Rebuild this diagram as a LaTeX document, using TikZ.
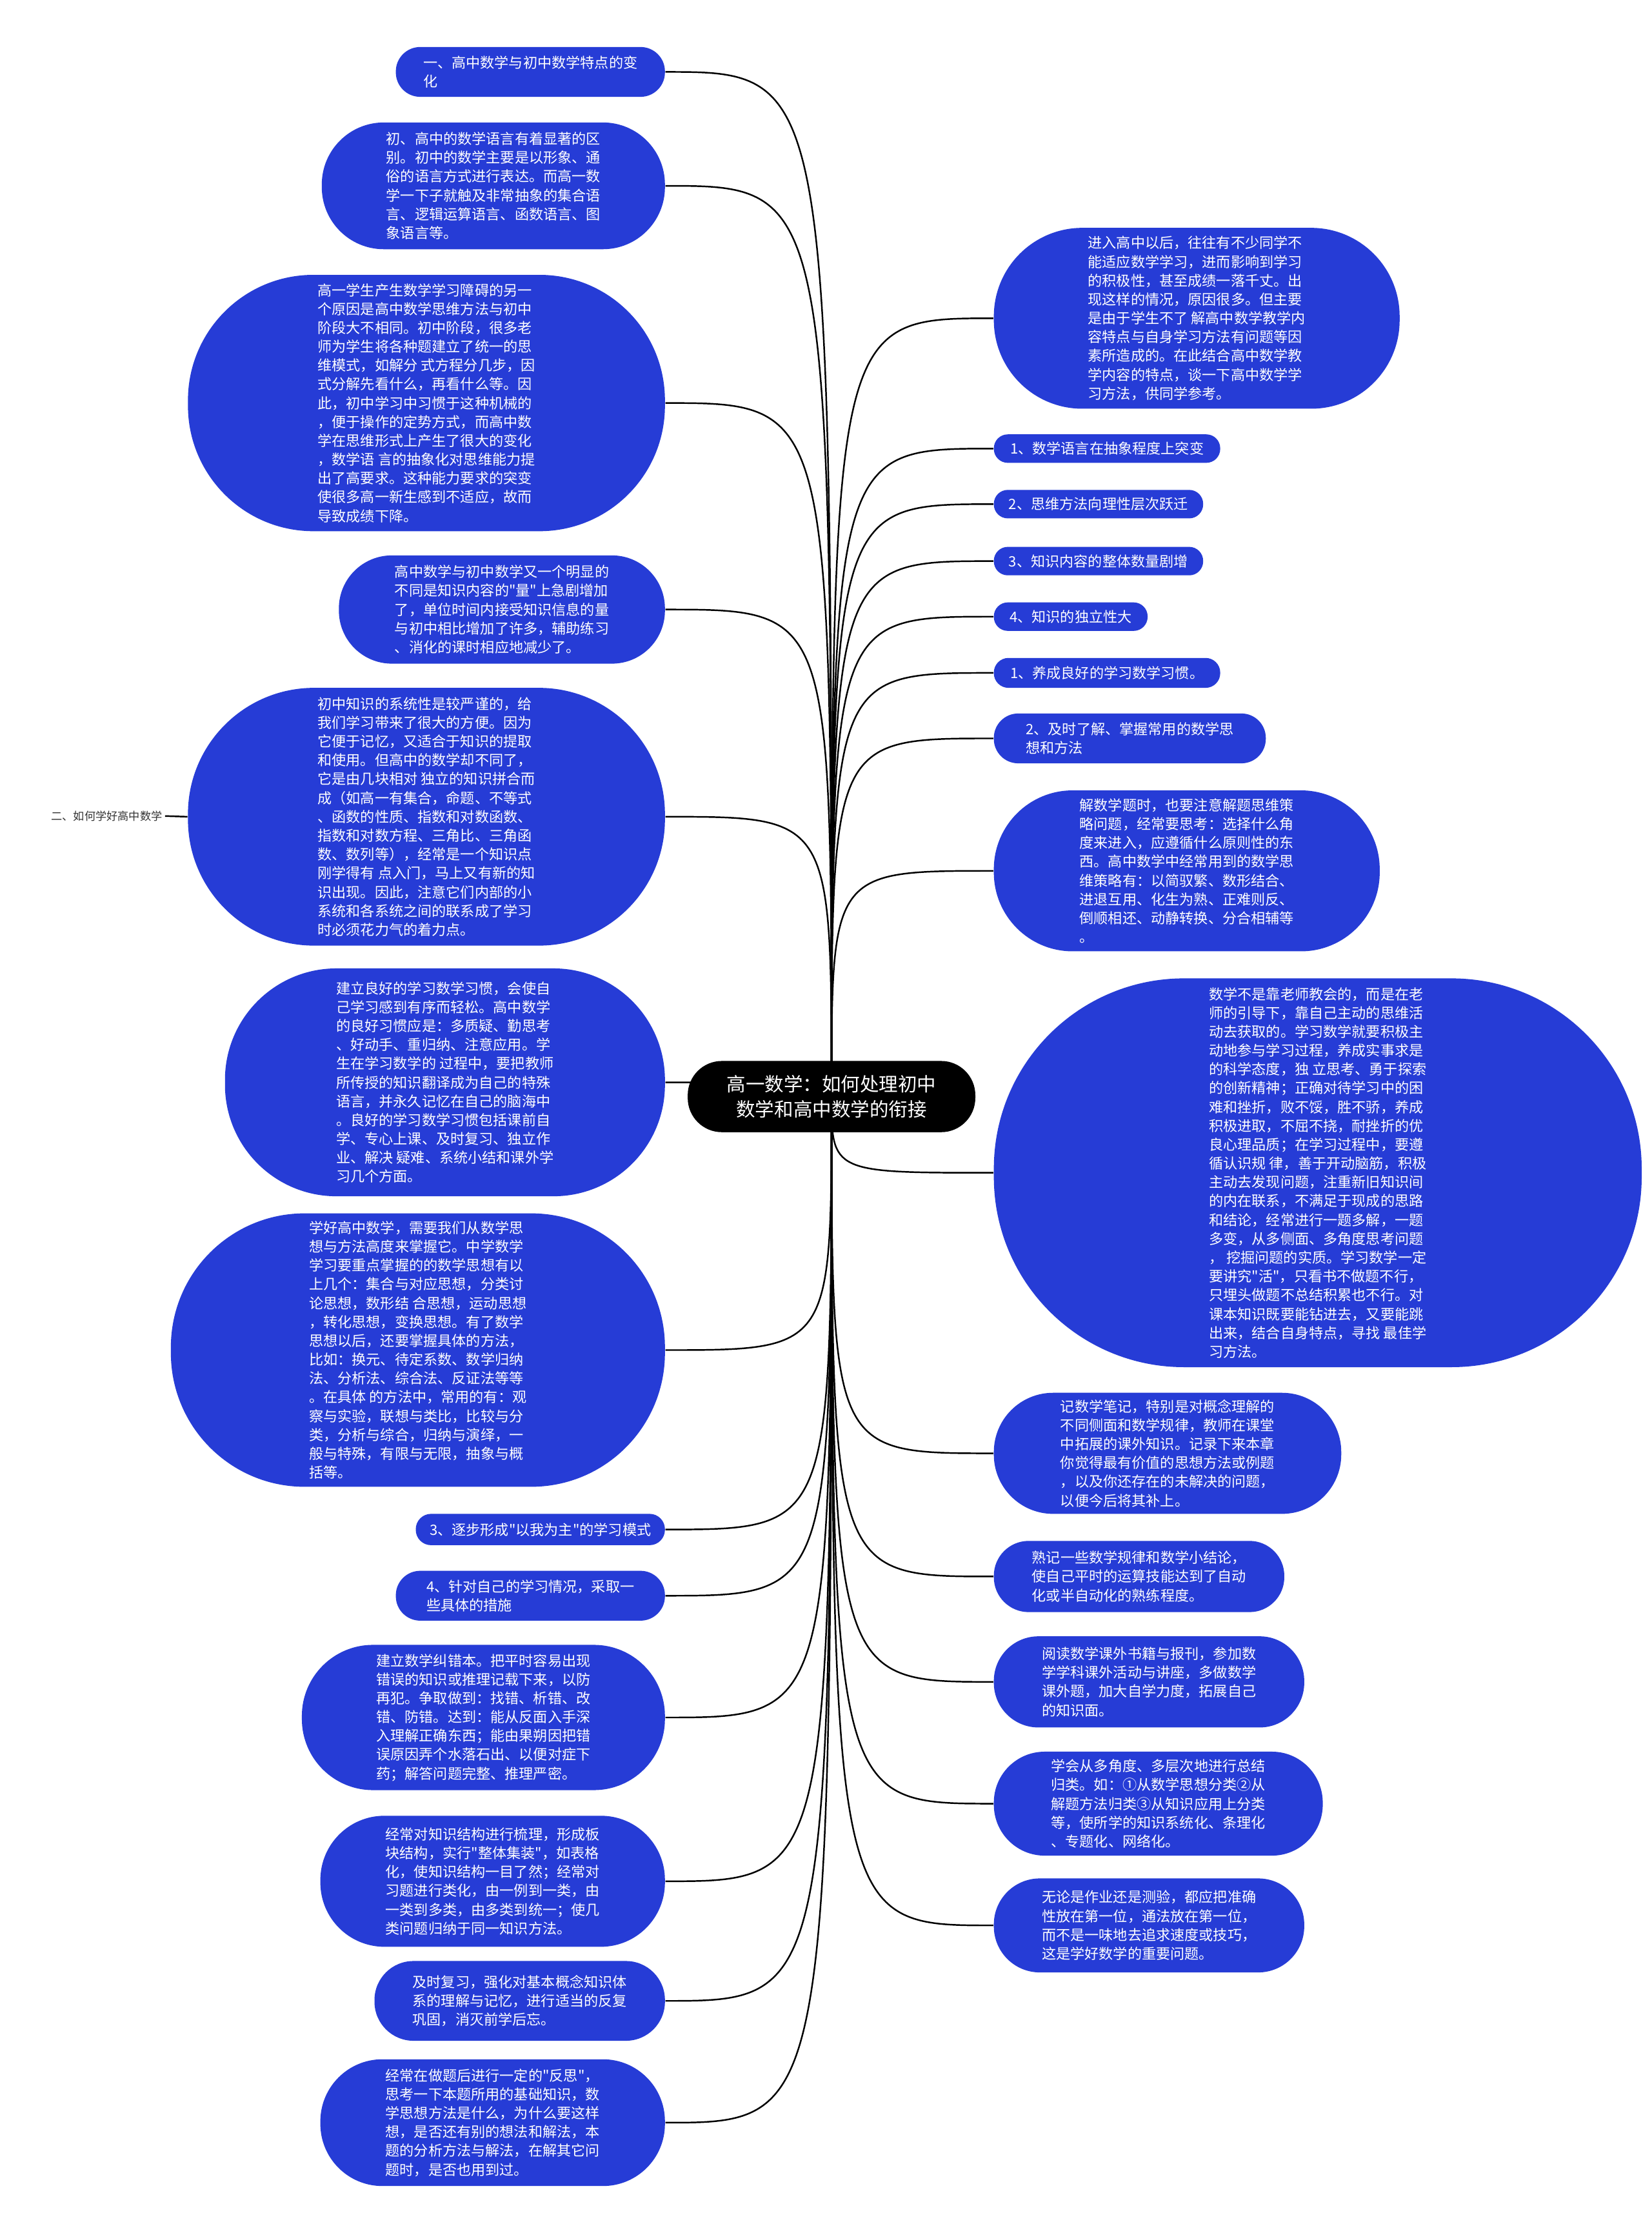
\documentclass[tikz,border=0pt]{standalone}
\usepackage{fontspec}
\usepackage{xcolor}
\usepackage{tikz}
\usetikzlibrary{backgrounds}

\newfontfamily\cjk{Noto Sans CJK SC}
\definecolor{leafblue}{RGB}{38,60,214}
\newcommand{\leaffont}{\cjk\fontsize{6.3pt}{8.3pt}\selectfont}
\newcommand{\topicfont}{\cjk\fontsize{8.4pt}{11.2pt}\selectfont}

\tikzset{
  leaf/.style 2 args={fill=leafblue, text=white, font=\leaffont, align=left, inner sep=0pt,
    minimum width=#1*0.22069mm, minimum height=#2*0.22069mm, rounded corners=#2*0.108mm},
  topic/.style={fill=black, text=white, font=\topicfont, align=center, inner sep=0pt,
    minimum width=202*0.22069mm, minimum height=50*0.22069mm, rounded corners=5.3mm},
  link/.style={line width=0.7pt},
}

\begin{document}
\begin{tikzpicture}[x=0.22069mm, y=-0.22069mm]
    \useasboundingbox (0,0) rectangle (1160,1568);
    \begin{scope}[on background layer]
      \fill[white] (0,0) rectangle (1160,1568);
    \end{scope}

    % Central topic
    \node[topic] (root) at (584,770) {高一数学：如何处理初中\\数学和高中数学的衔接};

    % Left branch
    \node[leaf={189}{35}] (sec1) at (372.5,50.5) {一、高中数学与初中数学特点的变\\化};
    \node[leaf={241}{89}] (lang) at (346.5,130.5) {初、高中的数学语言有着显著的区\\别。初中的数学主要是以形象、通\\俗的语言方式进行表达。而高一数\\学一下子就触及非常抽象的集合语\\言、逻辑运算语言、函数语言、图\\象语言等。};
    \node[leaf={335}{180}] (think) at (299.5,283) {高一学生产生数学学习障碍的另一\\个原因是高中数学思维方法与初中\\阶段大不相同。初中阶段，很多老\\师为学生将各种题建立了统一的思\\维模式，如解分 式方程分几步，因\\式分解先看什么，再看什么等。因\\此，初中学习中习惯于这种机械的\\，便于操作的定势方式，而高中数\\学在思维形式上产生了很大的变化\\，数学语 言的抽象化对思维能力提\\出了高要求。这种能力要求的突变\\使很多高一新生感到不适应，故而\\导致成绩下降。};
    \node[leaf={229}{76}] (amount) at (352.5,428) {高中数学与初中数学又一个明显的\\不同是知识内容的"量"上急剧增加\\了，单位时间内接受知识信息的量\\与初中相比增加了许多，辅助练习\\、消化的课时相应地减少了。};
    \node[leaf={335}{181}] (system) at (299.5,573.5) {初中知识的系统性是较严谨的，给\\我们学习带来了很大的方便。因为\\它便于记忆，又适合于知识的提取\\和使用。但高中的数学却不同了，\\它是由几块相对 独立的知识拼合而\\成（如高一有集合，命题、不等式\\、函数的性质、指数和对数函数、\\指数和对数方程、三角比、三角函\\数、数列等），经常是一个知识点\\刚学得有 点入门，马上又有新的知\\识出现。因此，注意它们内部的小\\系统和各系统之间的联系成了学习\\时必须花力气的着力点。};
    \node[leaf={309}{160}] (habit) at (312.5,760) {建立良好的学习数学习惯，会使自\\己学习感到有序而轻松。高中数学\\的良好习惯应是：多质疑、勤思考\\、好动手、重归纳、注意应用。学\\生在学习数学的 过程中，要把教师\\所传授的知识翻译成为自己的特殊\\语言，并永久记忆在自己的脑海中\\。良好的学习数学习惯包括课前自\\学、专心上课、及时复习、独立作\\业、解决 疑难、系统小结和课外学\\习几个方面。};
    \node[leaf={347}{192}] (idea) at (293.5,948) {学好高中数学，需要我们从数学思\\想与方法高度来掌握它。中学数学\\学习要重点掌握的的数学思想有以\\上几个：集合与对应思想，分类讨\\论思想，数形结 合思想，运动思想\\，转化思想，变换思想。有了数学\\思想以后，还要掌握具体的方法，\\比如：换元、待定系数、数学归纳\\法、分析法、综合法、反证法等等\\。在具体 的方法中，常用的有：观\\察与实验，联想与类比，比较与分\\类，分析与综合，归纳与演绎，一\\般与特殊，有限与无限，抽象与概\\括等。};
    \node[leaf={175}{22}] (mode) at (379.5,1074) {3、逐步形成"以我为主"的学习模式};
    \node[leaf={189}{35}] (measure) at (372.5,1120.5) {4、针对自己的学习情况，采取一\\些具体的措施};
    \node[leaf={255}{102}] (errbook) at (339.5,1206) {建立数学纠错本。把平时容易出现\\错误的知识或推理记载下来，以防\\再犯。争取做到：找错、析错、改\\错、防错。达到：能从反面入手深\\入理解正确东西；能由果朔因把错\\误原因弄个水落石出、以便对症下\\药；解答问题完整、推理严密。};
    \node[leaf={242}{92}] (sort) at (346,1321) {经常对知识结构进行梳理，形成板\\块结构，实行"整体集装"，如表格\\化，使知识结构一目了然；经常对\\习题进行类化，由一例到一类，由\\一类到多类，由多类到统一；使几\\类问题归纳于同一知识方法。};
    \node[leaf={204}{56}] (review) at (365,1405) {及时复习，强化对基本概念知识体\\系的理解与记忆，进行适当的反复\\巩固，消灭前学后忘。};
    \node[leaf={242}{89}] (reflect) at (346,1490.5) {经常在做题后进行一定的"反思"，\\思考一下本题所用的基础知识，数\\学思想方法是什么，为什么要这样\\想，是否还有别的想法和解法，本\\题的分析方法与解法，在解其它问\\题时，是否也用到过。};
    \node[font=\cjk\fontsize{4.9pt}{6pt}\selectfont, text=black!80, inner sep=1pt] (sec2) at (75,573) {二、如何学好高中数学};

    % Right branch
    \node[leaf={285}{127}] (intro) at (840.5,223.5) {进入高中以后，往往有不少同学不\\能适应数学学习，进而影响到学习\\的积极性，甚至成绩一落千丈。出\\现这样的情况，原因很多。但主要\\是由于学生不了 解高中数学教学内\\容特点与自身学习方法有问题等因\\素所造成的。在此结合高中数学教\\学内容的特点，谈一下高中数学学\\习方法，供同学参考。};
    \node[leaf={159}{20}] (abstr) at (777.5,315) {1、数学语言在抽象程度上突变};
    \node[leaf={147}{20}] (leap) at (771.5,354) {2、思维方法向理性层次跃迁};
    \node[leaf={147}{20}] (grow) at (771.5,394) {3、知识内容的整体数量剧增};
    \node[leaf={108}{20}] (indep) at (752,433) {4、知识的独立性大};
    \node[leaf={159}{21}] (habit1) at (777.5,472.5) {1、养成良好的学习数学习惯。};
    \node[leaf={191}{35}] (method) at (793.5,518.5) {2、及时了解、掌握常用的数学思\\想和方法};
    \node[leaf={271}{113}] (strat) at (833.5,611.5) {解数学题时，也要注意解题思维策\\略问题，经常要思考：选择什么角\\度来进入，应遵循什么原则性的东\\西。高中数学中经常用到的数学思\\维策略有：以简驭繁、数形结合、\\进退互用、化生为熟、正难则反、\\倒顺相还、动静转换、分合相辅等\\。};
    \node[leaf={455}{273}] (active) at (925.5,823.5) {数学不是靠老师教会的，而是在老\\师的引导下，靠自己主动的思维活\\动去获取的。学习数学就要积极主\\动地参与学习过程，养成实事求是\\的科学态度，独 立思考、勇于探索\\的创新精神；正确对待学习中的困\\难和挫折，败不馁，胜不骄，养成\\积极进取，不屈不挠，耐挫折的优\\良心理品质；在学习过程中，要遵\\循认识规 律，善于开动脑筋，积极\\主动去发现问题，注重新旧知识间\\的内在联系，不满足于现成的思路\\和结论，经常进行一题多解，一题\\多变，从多侧面、多角度思考问题\\， 挖掘问题的实质。学习数学一定\\要讲究"活"，只看书不做题不行，\\只埋头做题不总结积累也不行。对\\课本知识既要能钻进去，又要能跳\\出来，结合自身特点，寻找 最佳学\\习方法。};
    \node[leaf={244}{85}] (notes) at (820,1020.5) {记数学笔记，特别是对概念理解的\\不同侧面和数学规律，教师在课堂\\中拓展的课外知识。记录下来本章\\你觉得最有价值的思想方法或例题\\，以及你还存在的未解决的问题，\\以便今后将其补上。};
    \node[leaf={204}{50}] (recall) at (800,1107) {熟记一些数学规律和数学小结论，\\使自己平时的运算技能达到了自动\\化或半自动化的熟练程度。};
    \node[leaf={218}{64}] (read) at (807,1181) {阅读数学课外书籍与报刊，参加数\\学学科课外活动与讲座，多做数学\\课外题，加大自学力度，拓展自己\\的知识面。};
    \node[leaf={231}{73}] (summ) at (813.5,1266.5) {学会从多角度、多层次地进行总结\\归类。如：①从数学思想分类②从\\解题方法归类③从知识应用上分类\\等，使所学的知识系统化、条理化\\、专题化、网络化。};
    \node[leaf={218}{66}] (exact) at (807,1352) {无论是作业还是测验，都应把准确\\性放在第一位，通法放在第一位，\\而不是一味地去追求速度或技巧，\\这是学好数学的重要问题。};

    % Connectors, behind the nodes
    \begin{scope}[on background layer]
      \foreach \n in {sec1,lang,think,amount,system,habit,idea,mode,measure,errbook,sort,review,reflect}
        \draw[link] (root.center) .. controls (root.center |- \n.east) .. (\n.east);
      \foreach \n in {intro,abstr,leap,grow,indep,habit1,method,strat,active,notes,recall,read,summ,exact}
        \draw[link] (root.center) .. controls (root.center |- \n.west) .. (\n.west);
      \draw[link] (sec2.east) -- (system.west);
    \end{scope}
\end{tikzpicture}
\end{document}
